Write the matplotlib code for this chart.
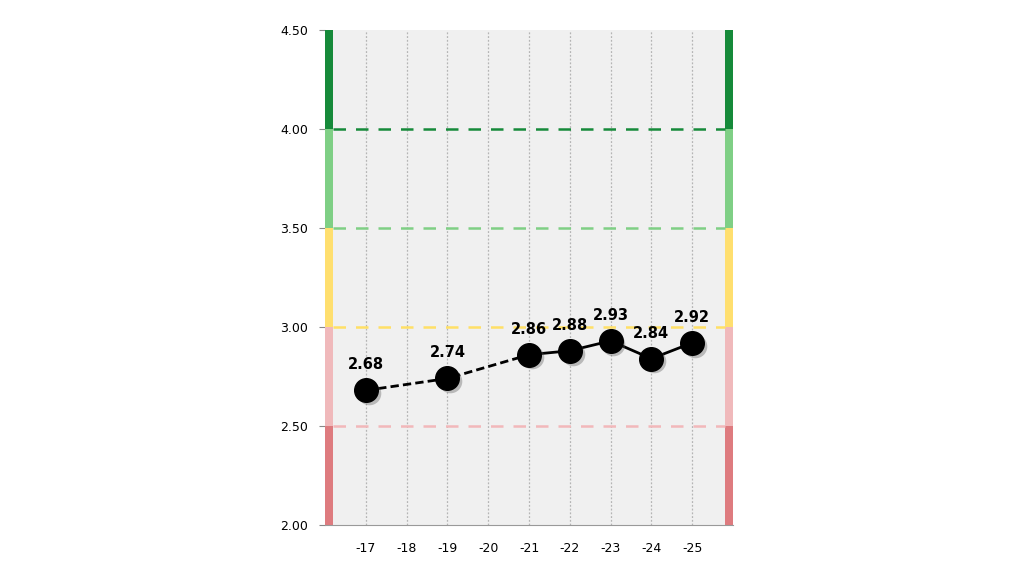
import matplotlib.pyplot as plt
import matplotlib.transforms as mtransforms
import numpy as np

plt.rcParams['font.family'] = ['DejaVu Sans']

# data
categories = ["-17", "-18", "-19", "-20", "-21", "-22", "-23", "-24", "-25"]
point_cats = ["-17", "-19", "-21", "-22", "-23", "-24", "-25"]
point_vals = [2.68, 2.74, 2.86, 2.88, 2.93, 2.84, 2.92]
dashed_until = "-21"   # dashed segment between sparse early points

band_edges = [2.0, 2.5, 3.0, 3.5, 4.0, 4.5]
band_colors = ["#de7b7f", "#f0b9bb", "#ffdf6f", "#7fcf85", "#168a3a"]
line_colors = {2.5: "#f2b8ba", 3.0: "#ffe066", 3.5: "#7fcf85", 4.0: "#168a3a"}

fig = plt.figure(figsize=(10.24, 5.76), dpi=100)
ax = fig.add_axes([325 / 1024, 1 - 525 / 576, 408 / 1024, 495 / 576])

xpos = {c: i for i, c in enumerate(categories)}
xs = np.array([xpos[c] for c in point_cats])
ys = np.array(point_vals)
n = len(categories)

ax.set_xlim(-1, n)
ax.set_ylim(2.0, 4.5)
ax.set_facecolor("white")

# grey plot background inside the bands
ax.axvspan(-0.8, n - 0.2, color="#f0f0f0", zorder=0)

# vertical dotted grid
for i in range(n):
    ax.axvline(i, color="#b5b5b5", lw=0.9, ls=(0, (1.5, 1.5)), zorder=1)

# coloured bands on both sides
for k, col in enumerate(band_colors):
    lo, hi = band_edges[k], band_edges[k + 1]
    ax.fill_between([-1, -0.8], lo, hi, color=col, lw=0, zorder=2)
    ax.fill_between([n - 0.2, n], lo, hi, color=col, lw=0, zorder=2)

# dashed threshold lines
for y, col in line_colors.items():
    ax.plot([-0.8, n - 0.2], [y, y], color=col, lw=1.8, ls=(0, (5, 4)), zorder=3)

# line: dashed first, then solid
split = list(point_cats).index(dashed_until)
ax.plot(xs[:split + 1], ys[:split + 1], color="black", lw=2, ls=(0, (3, 1.5)), zorder=4)
ax.plot(xs[split:], ys[split:], color="black", lw=2, zorder=4)

# soft shadow under markers
shadow_tr = ax.transData + mtransforms.ScaledTranslation(2 / 72, -2 / 72, fig.dpi_scale_trans)
ax.plot(xs, ys, ls="none", marker="o", ms=17, color="#555555", alpha=0.35,
        mec="none", transform=shadow_tr, zorder=4.5)
ax.plot(xs, ys, ls="none", marker="o", ms=17, color="black", mec="black", zorder=5)

for x, y in zip(xs, ys):
    ax.annotate(f"{y:.2f}", (x, y), xytext=(0, 13), textcoords="offset points",
                ha="center", va="bottom", fontsize=10.5, fontweight="bold", zorder=6)

ax.set_xticks(range(n))
ax.set_xticklabels(categories)
ax.set_yticks(band_edges)
ax.set_yticklabels([f"{v:.2f}" for v in band_edges])
ax.tick_params(axis="y", length=4, color="#888888", labelsize=9, pad=8)
ax.tick_params(axis="x", length=0, labelsize=9, pad=12)

for s in ["top", "right", "left"]:
    ax.spines[s].set_visible(False)
ax.spines["bottom"].set_color("#999999")

fig.savefig("out.png", dpi=100)
